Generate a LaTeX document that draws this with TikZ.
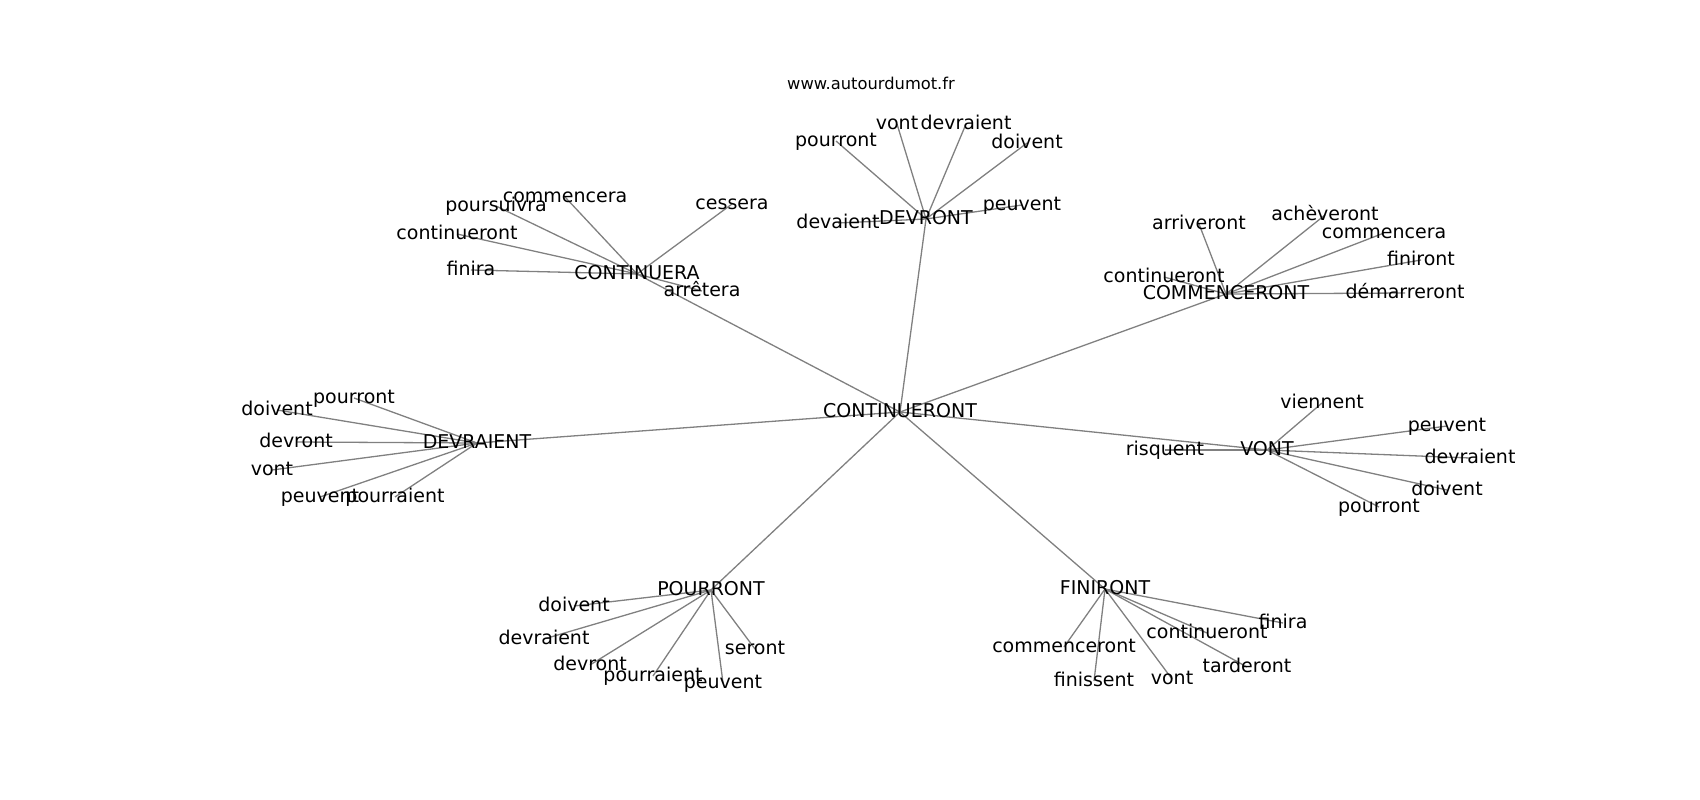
\documentclass[tikz,border=0pt]{standalone}
\usepackage{fontspec}
\setmainfont{DejaVu Sans}
\pgfdeclarelayer{bg}
\pgfsetlayers{bg,main}
\tikzset{
  lbl/.style={inner sep=0pt, text height=14.4pt, text depth=4.4pt, font=\fontsize{19}{22}\selectfont},
  ttl/.style={inner sep=0pt, font=\fontsize{16.3}{19}\selectfont},
  ed/.style={draw=gray, line width=1.3pt}
}
\begin{document}
\begin{tikzpicture}[x=1pt,y=-1pt]
\useasboundingbox (0,0) rectangle (1700,800);
\node[ttl] (title) at (871,83) {www.autourdumot.fr};
% hub
\node[lbl] (h) at (900,412) {CONTINUERONT};
% CONTINUERA
\node[lbl] (a) at (637,274) {CONTINUERA};
\node[lbl] (a1) at (565,197) {commencera};
\node[lbl] (a2) at (496,206) {poursuivra};
\node[lbl] (a3) at (457,234) {continueront};
\node[lbl] (a4) at (471,270) {finira};
\node[lbl] (a5) at (732,204) {cessera};
\node[lbl] (a6) at (702,291) {arrêtera};
% DEVRONT
\node[lbl] (b) at (926,219) {DEVRONT};
\node[lbl] (b1) at (836,141) {pourront};
\node[lbl] (b2) at (897,124) {vont};
\node[lbl] (b3) at (966,124) {devraient};
\node[lbl] (b4) at (1027,143) {doivent};
\node[lbl] (b5) at (1022,205) {peuvent};
\node[lbl] (b6) at (838,223) {devaient};
% COMMENCERONT
\node[lbl] (c) at (1226,294) {COMMENCERONT};
\node[lbl] (c1) at (1199,224) {arriveront};
\node[lbl] (c2) at (1325,215) {achèveront};
\node[lbl] (c3) at (1384,233) {commencera};
\node[lbl] (c4) at (1421,260) {finiront};
\node[lbl] (c5) at (1405,293) {démarreront};
\node[lbl] (c6) at (1164,277) {continueront};
% DEVRAIENT
\node[lbl] (d) at (477,443) {DEVRAIENT};
\node[lbl] (d1) at (354,398) {pourront};
\node[lbl] (d2) at (277,410) {doivent};
\node[lbl] (d3) at (296,442) {devront};
\node[lbl] (d4) at (272,470) {vont};
\node[lbl] (d5) at (320,497) {peuvent};
\node[lbl] (d6) at (395,497) {pourraient};
% VONT
\node[lbl] (e) at (1267,450) {VONT};
\node[lbl] (e1) at (1322,403) {viennent};
\node[lbl] (e2) at (1447,426) {peuvent};
\node[lbl] (e3) at (1470,458) {devraient};
\node[lbl] (e4) at (1447,490) {doivent};
\node[lbl] (e5) at (1379,507) {pourront};
\node[lbl] (e6) at (1165,450) {risquent};
% POURRONT
\node[lbl] (f) at (711,590) {POURRONT};
\node[lbl] (f1) at (574,606) {doivent};
\node[lbl] (f2) at (544,639) {devraient};
\node[lbl] (f3) at (590,665) {devront};
\node[lbl] (f4) at (653,676) {pourraient};
\node[lbl] (f5) at (723,683) {peuvent};
\node[lbl] (f6) at (755,649) {seront};
% FINIRONT
\node[lbl] (g) at (1105,589) {FINIRONT};
\node[lbl] (g1) at (1283,623) {finira};
\node[lbl] (g2) at (1207,633) {continueront};
\node[lbl] (g3) at (1064,647) {commenceront};
\node[lbl] (g4) at (1094,681) {finissent};
\node[lbl] (g5) at (1172,679) {vont};
\node[lbl] (g6) at (1247,667) {tarderont};
\begin{pgfonlayer}{bg}
\foreach \s in {a,b,c,d,e,f,g}{
  \draw[ed] (h.center) -- (\s.center);
  \foreach \i in {1,...,6}{
    \draw[ed] (\s.center) -- (\s\i.center);
  }
}
\end{pgfonlayer}
\end{tikzpicture}
\end{document}
